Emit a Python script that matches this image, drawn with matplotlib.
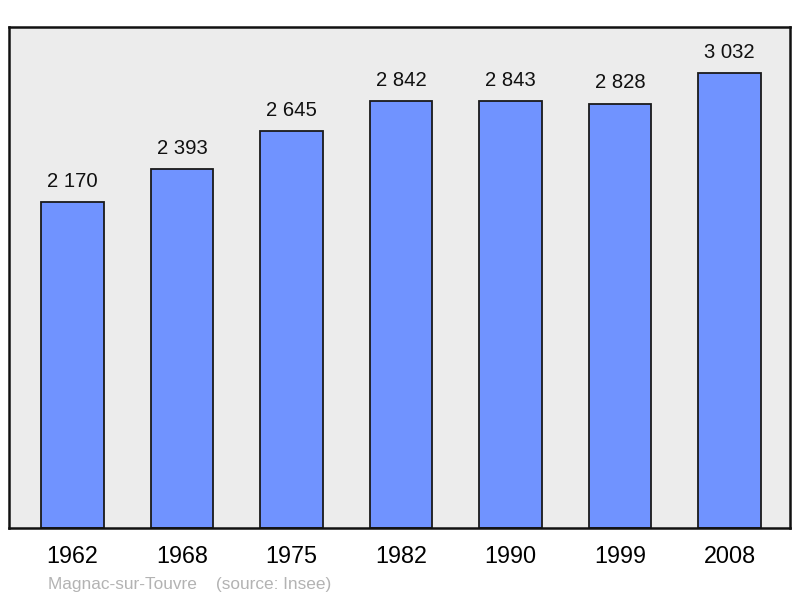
import matplotlib
matplotlib.use("Agg")
import matplotlib.pyplot as plt

plt.rcParams['font.family'] = ['Liberation Sans', 'DejaVu Sans']

# population data
years = ['1962', '1968', '1975', '1982', '1990', '1999', '2008']
population = [2170, 2393, 2645, 2842, 2843, 2828, 3032]
value_labels = ['2 170', '2 393', '2 645', '2 842', '2 843', '2 828', '3 032']

fig = plt.figure(figsize=(8, 5.98), dpi=100)
ax = fig.add_axes([0.01125, 0.1171, 0.97625, 0.8378])
ax.set_facecolor('#ececec')

bar_w = 0.575
bars = ax.bar(range(len(years)), population, width=bar_w, color='#7093ff',
              edgecolor='#1a1a1a', linewidth=1.3, zorder=2)

for i, (v, lab) in enumerate(zip(population, value_labels)):
    ax.text(i, v + 75, lab, ha='center', va='bottom', fontsize=14.6, color='#111111')

ax.set_xlim(-0.58, 6.5525)
ax.set_ylim(0, 3338)
ax.set_xticks(range(len(years)))
ax.set_xticklabels(years, fontsize=16.8)
ax.tick_params(axis='x', length=0, pad=12)
ax.set_yticks([])
for s in ax.spines.values():
    s.set_linewidth(1.8)
    s.set_color('#111111')

fig.text(0.06, 0.01, 'Magnac-sur-Touvre    (source: Insee)', fontsize=12.4,
         color='#b3b3b3', ha='left', va='bottom')

fig.savefig('out.png', dpi=100)
